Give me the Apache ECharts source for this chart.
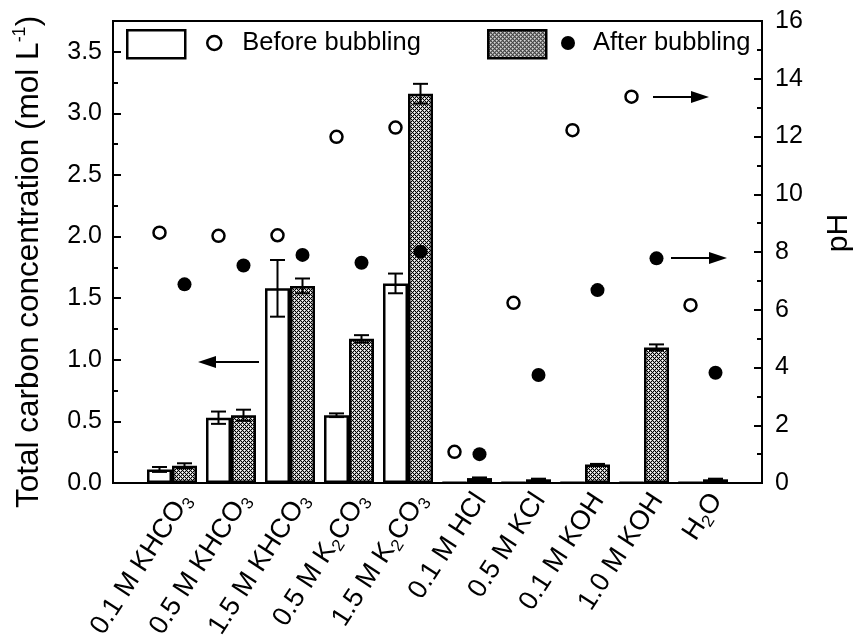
<!DOCTYPE html>
<html><head><meta charset="utf-8">
<script src="https://cdn.jsdelivr.net/npm/echarts@6/dist/echarts.min.js"></script>
<style>html,body{margin:0;padding:0;background:#fff}#c{width:860px;height:638px}</style>
</head><body><div id="c"></div>
<script>
// ---- data ----
const categories = ['0.1 M KHCO{s|3}', '0.5 M KHCO{s|3}', '1.5 M KHCO{s|3}', '0.5 M K{s|2}CO{s|3}', '1.5 M K{s|2}CO{s|3}',
                    '0.1 M HCl', '0.5 M KCl', '0.1 M KOH', '1.0 M KOH', 'H{s|2}O'];
const beforeConc = [0.11, 0.53, 1.58, 0.55, 1.62, 0.005, 0.004, 0.004, 0.005, 0.003];
const beforeErr  = [0.02, 0.05, 0.23, 0.015, 0.08, 0, 0, 0, 0, 0];
const afterConc  = [0.14, 0.55, 1.60, 1.17, 3.16, 0.04, 0.03, 0.15, 1.10, 0.03];
const afterErr   = [0.02, 0.045, 0.06, 0.03, 0.08, 0.005, 0.005, 0.005, 0.025, 0.005];
const beforePH   = [8.67, 8.56, 8.58, 11.99, 12.31, 1.08, 6.24, 12.22, 13.38, 6.16];
const afterPH    = [6.88, 7.53, 7.90, 7.63, 8.01, 1.00, 3.74, 6.68, 7.78, 3.82];
const concAxis = {min: 0, max: 3.75, interval: 0.5, minor: 0.25};
const phAxis = {min: 0, max: 16, interval: 2};

// ---- styling ----
const FONT = 'Liberation Sans, Arial, sans-serif';
const BAR_W = 25;
function makeHatch() {
  const c = document.createElement('canvas'); c.width = 4; c.height = 4;
  const g = c.getContext('2d');
  g.fillStyle = '#fff'; g.fillRect(0, 0, 4, 4);
  for (let x = 0; x < 4; x++) for (let y = 0; y < 4; y++) {
    if ((x + y) % 4 === 0 || ((x - y) + 4) % 4 === 0) { g.fillStyle = '#000'; g.fillRect(x, y, 1, 1); }
    else if (!((x === 0 && y === 2) || (x === 2 && y === 0))) { g.fillStyle = '#bbb'; g.fillRect(x, y, 1, 1); }
  }
  return c;
}
const hatch = {image: makeHatch(), repeat: 'repeat'};

// padded category axis so groups sit at 1..10 on an 0..11 span
const axisCats = [' '].concat(categories, ['  ']);
const idx = i => i + 1;

const errData = [];
beforeConc.forEach((v, i) => { if (beforeErr[i] > 0) errData.push([idx(i), v - beforeErr[i], v + beforeErr[i], -1]); });
afterConc.forEach((v, i) => { if (afterErr[i] > 0) errData.push([idx(i), v - afterErr[i], v + afterErr[i], 1]); });

const chart = echarts.init(document.getElementById('c'), null, {renderer: 'canvas'});
const legText = {fontSize: 25.5, lineHeight: 28, color: '#000', fontFamily: FONT};
chart.setOption({
  animation: false,
  backgroundColor: '#fff',
  grid: {left: 113, right: 98, top: 21, bottom: 155, show: true, borderColor: '#000', borderWidth: 2,
         backgroundColor: 'transparent', containLabel: false, outerBoundsMode: 'none'},
  legend: [
    {data: ['Before bubbling'], left: 126, top: 29, padding: 0, itemWidth: 58, itemHeight: 28, icon: 'rect',
     formatter: () => '', selectedMode: false, itemStyle: {borderColor: '#000', borderWidth: 2.5}},
    {data: ['Before bubbling pH'], left: 206, top: 29, padding: 0, itemWidth: 14, itemHeight: 14, icon: 'circle',
     formatter: () => 'Before bubbling', selectedMode: false, itemStyle: {borderWidth: 2.5, opacity: 1},
     textStyle: Object.assign({padding: [0, 0, 0, 16]}, legText)},
    {data: ['After bubbling'], left: 487, top: 29, padding: 0, itemWidth: 58, itemHeight: 28, icon: 'rect',
     formatter: () => '', selectedMode: false, itemStyle: {borderColor: '#000', borderWidth: 2.5}},
    {data: ['After bubbling pH'], left: 561, top: 29, padding: 0, itemWidth: 14, itemHeight: 14, icon: 'circle',
     formatter: () => 'After bubbling', selectedMode: false, itemStyle: {opacity: 1},
     textStyle: Object.assign({padding: [0, 0, 0, 13]}, legText)}
  ],
  xAxis: {
    type: 'category', data: axisCats, boundaryGap: false,
    axisLine: {lineStyle: {color: '#000', width: 2}}, axisTick: {show: false}, splitLine: {show: false},
    axisLabel: {
      interval: 0, rotate: 57, margin: 4, verticalAlign: 'top', fontSize: 27, lineHeight: 32,
      color: '#000', fontFamily: FONT,
      rich: {s: {fontSize: 17, lineHeight: 17, verticalAlign: 'bottom', color: '#000', fontFamily: FONT}}
    }
  },
  yAxis: [
    {type: 'value', position: 'left', min: concAxis.min, max: concAxis.max, interval: concAxis.interval,
     axisLine: {show: true, lineStyle: {color: '#000', width: 2}},
     axisTick: {show: true, inside: true, length: 8, lineStyle: {color: '#000', width: 2}},
     splitLine: {show: false},
     axisLabel: {margin: 11, fontSize: 25, color: '#000', fontFamily: FONT,
                 formatter: v => (v > concAxis.max - 0.1 ? '' : v.toFixed(1))},
     name: 'Total carbon concentration (mol L{sup|-1})', nameLocation: 'middle', nameGap: 66,
     nameTextStyle: {fontSize: 31.5, color: '#000', fontFamily: FONT, lineHeight: 36, padding: [0, 20, 0, 0],
       rich: {sup: {fontSize: 18, verticalAlign: 'top', lineHeight: 18, color: '#000', fontFamily: FONT}}}},
    {type: 'value', position: 'right', min: phAxis.min, max: phAxis.max, interval: phAxis.interval,
     axisLine: {show: true, lineStyle: {color: '#000', width: 2}},
     axisTick: {show: true, inside: true, length: 8, lineStyle: {color: '#000', width: 2}},
     minorTick: {show: true, splitNumber: 2, length: 5, lineStyle: {color: '#000', width: 2}},
     splitLine: {show: false}, minorSplitLine: {show: false},
     axisLabel: {margin: 13, fontSize: 25, color: '#000', fontFamily: FONT},
     name: 'pH', nameLocation: 'middle', nameGap: 62, nameRotate: 90,
     nameTextStyle: {fontSize: 30, color: '#000', fontFamily: FONT, padding: [0, 0, 0, 38]}},
    {type: 'value', position: 'left', min: concAxis.min, max: concAxis.max, interval: concAxis.minor,
     axisLine: {show: false}, axisLabel: {show: false}, splitLine: {show: false},
     axisTick: {show: true, inside: true, length: 5, lineStyle: {color: '#000', width: 2}}}
  ],
  series: [
    {name: 'Before bubbling', type: 'bar', xAxisIndex: 0, yAxisIndex: 0, barWidth: BAR_W, barGap: '0%',
     data: beforeConc.map((v, i) => [idx(i), v]),
     itemStyle: {color: '#fff', borderColor: '#000', borderWidth: 2.5}},
    {name: 'After bubbling', type: 'bar', xAxisIndex: 0, yAxisIndex: 0, barWidth: BAR_W, barGap: '0%',
     data: afterConc.map((v, i) => [idx(i), v]),
     itemStyle: {color: hatch, borderColor: '#000', borderWidth: 2.5}},
    {name: 'errors', type: 'custom', xAxisIndex: 0, yAxisIndex: 0, z: 5, data: errData,
     encode: {x: 0, y: [1, 2]},
     renderItem: (params, api) => {
       const hi = api.coord([api.value(0), api.value(2)]);
       const lo = api.coord([api.value(0), api.value(1)]);
       const x = hi[0] + api.value(3) * BAR_W / 2;
       const st = {stroke: '#000', lineWidth: 2};
       return {type: 'group', children: [
         {type: 'line', shape: {x1: x, y1: hi[1], x2: x, y2: lo[1]}, style: st},
         {type: 'line', shape: {x1: x - 7.5, y1: hi[1], x2: x + 7.5, y2: hi[1]}, style: st},
         {type: 'line', shape: {x1: x - 7.5, y1: lo[1], x2: x + 7.5, y2: lo[1]}, style: st}
       ]};
     }},
    {name: 'Before bubbling pH', type: 'scatter', xAxisIndex: 0, yAxisIndex: 1, z: 6,
     symbol: 'circle', symbolSize: 12, symbolOffset: [-BAR_W / 2, 0],
     data: beforePH.map((v, i) => [idx(i), v]),
     itemStyle: {color: '#fff', borderColor: '#000', borderWidth: 2.5, opacity: 1}},
    {name: 'After bubbling pH', type: 'scatter', xAxisIndex: 0, yAxisIndex: 1, z: 6,
     symbol: 'circle', symbolSize: 14, symbolOffset: [BAR_W / 2, 0],
     data: afterPH.map((v, i) => [idx(i), v]),
     itemStyle: {color: '#000', borderColor: '#000', borderWidth: 0, opacity: 1}}
  ],
  graphic: [
    {type: 'line', shape: {x1: 259, y1: 362, x2: 212, y2: 362}, style: {stroke: '#000', lineWidth: 2}},
    {type: 'polygon', shape: {points: [[198, 362], [216, 356], [216, 368]]}, style: {fill: '#000'}},
    {type: 'line', shape: {x1: 653, y1: 97, x2: 696, y2: 97}, style: {stroke: '#000', lineWidth: 2}},
    {type: 'polygon', shape: {points: [[709, 97], [691, 91], [691, 103]]}, style: {fill: '#000'}},
    {type: 'line', shape: {x1: 671, y1: 258, x2: 714, y2: 258}, style: {stroke: '#000', lineWidth: 2}},
    {type: 'polygon', shape: {points: [[727, 258], [709, 252], [709, 264]]}, style: {fill: '#000'}}
  ]
});
</script></body></html>
